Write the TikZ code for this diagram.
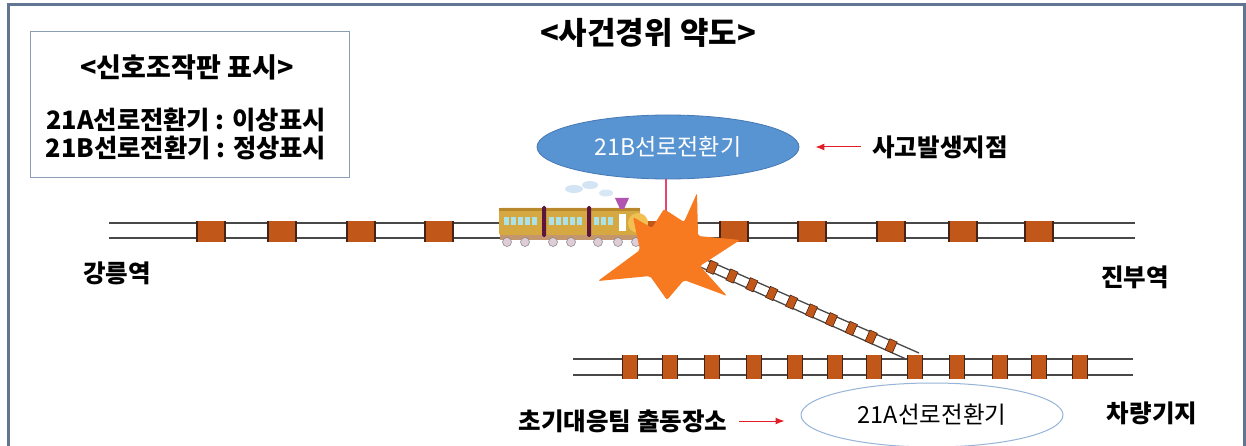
\documentclass[tikz,border=0pt]{standalone}
\usepackage{fontspec}
\setmainfont{Noto Sans CJK KR}
\usetikzlibrary{arrows.meta,calc,shapes.geometric}

\definecolor{framec}{RGB}{96,118,146}
\definecolor{boxc}{RGB}{140,158,180}
\definecolor{railc}{RGB}{72,72,72}
\definecolor{tiec}{RGB}{193,88,26}
\definecolor{tieedge}{RGB}{70,35,20}
\definecolor{blueell}{RGB}{88,148,210}
\definecolor{blueedge}{RGB}{70,120,180}
\definecolor{ellline}{RGB}{150,180,215}
\definecolor{boomc}{RGB}{247,122,32}
\definecolor{arrowc}{RGB}{225,30,40}
\definecolor{pinkc}{RGB}{230,70,110}
\definecolor{carc}{RGB}{214,168,66}
\definecolor{roofc}{RGB}{186,136,44}
\definecolor{winc}{RGB}{170,226,232}
\definecolor{divc}{RGB}{92,22,62}
\definecolor{wheelc}{RGB}{222,204,214}
\definecolor{chassisc}{RGB}{196,150,110}
\definecolor{chimc}{RGB}{176,84,176}
\definecolor{smokec}{RGB}{200,222,242}
\definecolor{frontc}{RGB}{242,192,82}

\tikzset{
  lbl/.style={font=\bfseries\fontsize{24.5}{26}\selectfont, inner sep=0pt},
  boxtxt/.style={font=\bfseries\fontsize{25.3}{27}\selectfont, inner sep=0pt},
  rail/.style={draw=railc, line width=1.5pt},
  redarr/.style={draw=arrowc, line width=1pt, -{Latex[length=9pt,width=7pt]}},
  switchA/.style={ellipse, draw=ellline, line width=1pt, fill=white,
    minimum width=262pt, minimum height=64pt, inner sep=0pt,
    font=\fontsize{23.5}{25}\selectfont},
  switchB/.style={ellipse, draw=blueedge, line width=0.8pt, fill=blueell, text=white,
    minimum width=262pt, minimum height=64pt, inner sep=0pt,
    font=\fontsize{23}{25}\selectfont},
  diagtie/.style={fill=tiec, draw=tieedge, line width=0.6pt,
    minimum width=8pt, minimum height=12pt, inner sep=0pt}
}

\begin{document}
\begin{tikzpicture}[x=1pt,y=-1pt]
\useasboundingbox (0,0) rectangle (1246,446);
\clip (0,0) rectangle (1246,446);
\fill[white] (0,0) rectangle (1246,446);

% outer frame
\draw[framec, line width=3pt] (8,5) rectangle (1244,480);

% title
\node[font=\bfseries\fontsize{31}{33}\selectfont, inner sep=0pt] (title) at (648,33) {<사건경위 약도>};

% signal panel box
\node[draw=boxc, line width=1pt, minimum width=319pt, minimum height=146pt, inner sep=0pt] (panel) at (189.5,105) {};
\node[boxtxt, font=\bfseries\fontsize{27}{29}\selectfont] (ptitle) at (187,67) {<신호조작판 표시>};
\node[boxtxt] (pA) at (186,120) {21A선로전환기 : 이상표시};
\node[boxtxt] (pB) at (186,148) {21B선로전환기 : 정상표시};

% main line rails and sleepers
\draw[rail] (109,223) -- (1135,223);
\draw[rail] (109,238) -- (1135,238);
\foreach \x in {211,282,361,439,658,734,812,891,963,1039}{
  \fill[tiec] (\x-14,221) rectangle (\x+14,242);
  \draw[tieedge, line width=1.6pt] (\x-14,221) -- (\x-14,242) (\x+14,221) -- (\x+14,242);
}

% depot line rails and sleepers
\draw[rail] (573,359) -- (1133,359);
\draw[rail] (573,375) -- (1133,375);
\foreach \x in {630,670,712,754,795,835,874,915,957,1000,1039,1080}{
  \fill[tiec] (\x-7.5,355) rectangle (\x+7.5,379);
  \draw[tieedge, line width=1.2pt] (\x-7.5,355) -- (\x-7.5,379) (\x+7.5,355) -- (\x+7.5,379);
}

% diverging track to the depot
\draw[railc, line width=1.3pt] (702,258) -- (919,353);
\draw[railc, line width=1.3pt] (698,266) -- (906,359);
\foreach \i in {0,...,9}{
  \node[diagtie, rotate=-23.9] (dt\i) at ({712+\i*19.9},{267.3+\i*19.9*0.4387}) {};
}

% train
\fill[smokec, opacity=0.8] (574,189) ellipse (9pt and 4pt);
\fill[smokec, opacity=0.8] (590,185) ellipse (8pt and 4pt);
\fill[smokec, opacity=0.7] (606,193) ellipse (7pt and 3.5pt);
\fill[chassisc] (500,233) rectangle (642,240);
\foreach \x in {507,525,553,571,598,618,636}{
  \fill[wheelc] (\x,242) circle (4.5pt);
  \draw[gray, line width=0.5pt] (\x,242) circle (4.5pt);
}
\fill[carc, rounded corners=2pt] (499,208) rectangle (544,235);
\fill[carc, rounded corners=2pt] (544,208) rectangle (589,235);
\fill[carc, rounded corners=2pt] (589,208) rectangle (640,235);
\fill[frontc] (638,223) circle (10pt);
\fill[roofc] (499,208) rectangle (640,211);
\foreach \x in {504,511,518,525,532,549,556,563,570,577,594,601,608}{
  \fill[winc] (\x,217) rectangle (\x+5,225);
}
\fill[white] (619,214) rectangle (626,231);
\fill[divc, rounded corners=1.5pt] (542,206) rectangle (546,237);
\fill[divc, rounded corners=1.5pt] (587,206) rectangle (591,237);
\fill[chimc] (615,198) -- (629,198) -- (624,209) -- (620,209) -- cycle;
\draw[gray, line width=0.8pt] (646,230) -- (655,236) (646,236) -- (654,241);

% signal line from the 21B switch to the crash point
\coordinate (hit) at (666,232);
\node[switchB] (b21) at (668,147) {21B선로전환기};
\draw[pinkc, line width=1.3pt] (b21.south -| hit) -- (hit);

% crash burst
\fill[boomc, rounded corners=2pt] (664,209) -- (684,222) -- (697,193) -- (698,236) -- (740,240)
  -- (700,266) -- (727,296) -- (684,280) -- (667,300) -- (650,276) -- (598,281)
  -- (640,250) -- (633,217) -- (652,228) -- cycle;

% 21A switch
\node[switchA] (a21) at (932,415) {21A선로전환기};

% labels
\node[lbl] (gangneung) at (117,273) {강릉역};
\node[lbl] (jinbu) at (1135,277) {진부역};
\node[lbl] (depot) at (1152,413) {차량기지};
\node[lbl] (acc) at (940,147) {사고발생지점};
\node[lbl] (team) at (623,421) {초기대응팀 출동장소};

% pointer arrows
\draw[redarr, shorten <=11pt, shorten >=16pt] (acc.west) -- (acc.west -| b21.east);
\draw[redarr, shorten <=12pt, shorten >=16pt] (team.east) -- (team.east -| a21.west);
\end{tikzpicture}
\end{document}
